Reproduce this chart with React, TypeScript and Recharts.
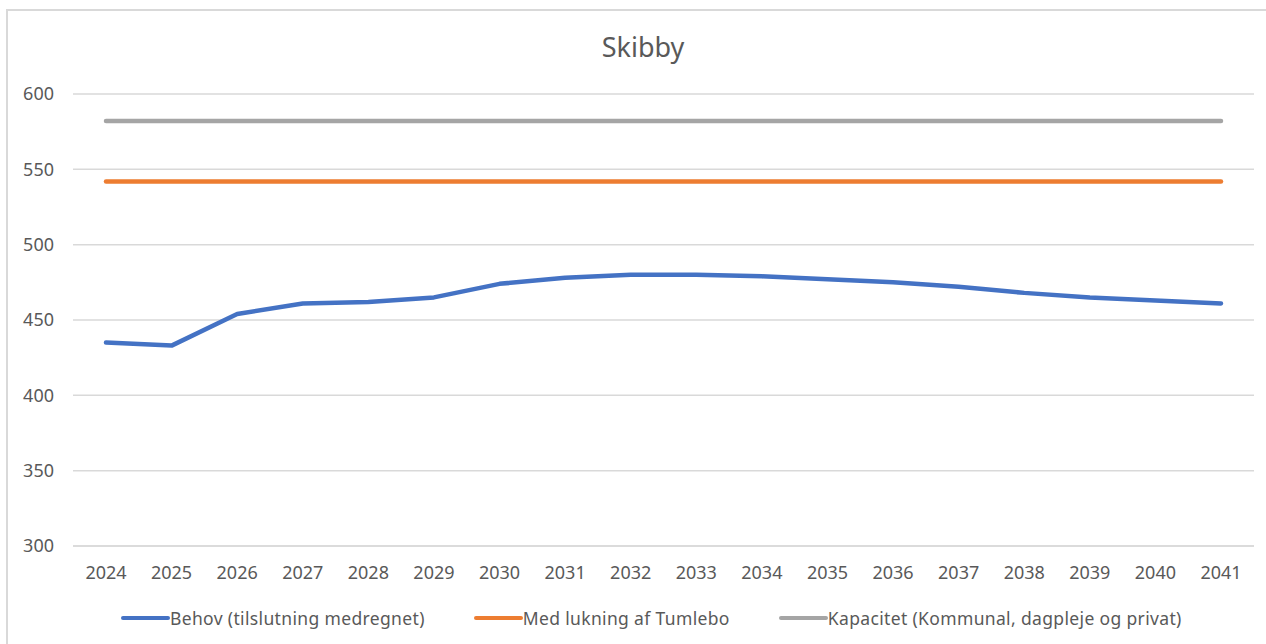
import React from 'react';
import { LineChart, Line, XAxis, YAxis, CartesianGrid } from 'recharts';

const years = [
  '2024', '2025', '2026', '2027', '2028', '2029', '2030', '2031', '2032',
  '2033', '2034', '2035', '2036', '2037', '2038', '2039', '2040', '2041',
];
const behov = [435, 433, 454, 461, 462, 465, 474, 478, 480, 480, 479, 477, 475, 472, 468, 465, 463, 461];
const medLukning = [542, 542, 542, 542, 542, 542, 542, 542, 542, 542, 542, 542, 542, 542, 542, 542, 542, 542];
const kapacitet = [582, 582, 582, 582, 582, 582, 582, 582, 582, 582, 582, 582, 582, 582, 582, 582, 582, 582];
const yTicks = [300, 350, 400, 450, 500, 550, 600];

const seriesNames = [
  'Behov (tilslutning medregnet)',
  'Med lukning af Tumlebo',
  'Kapacitet (Kommunal, dagpleje og privat)',
];
const seriesColors = ['#4472C4', '#ED7D31', '#A5A5A5'];

const data = years.map((year, i) => ({
  year,
  behov: behov[i],
  medLukning: medLukning[i],
  kapacitet: kapacitet[i],
}));

const font = '"Noto Sans", sans-serif';
const textColor = '#595959';

export default function App() {
  return (
    <div style={{ position: 'fixed', left: 0, top: 0, width: 1266, height: 644, overflow: 'hidden', background: '#fff', fontFamily: font }}>
      <div style={{ position: 'absolute', left: 6, top: 9, width: 1280, height: 660, border: '2px solid #d9d9d9' }} />
      <div style={{ position: 'absolute', left: 10, top: 29, width: 1266, textAlign: 'center', fontSize: 27, color: textColor, lineHeight: '36px' }}>
        Skibby
      </div>
      <div style={{ position: 'absolute', left: 0, top: 0 }}>
        <LineChart width={1266} height={644} data={data} margin={{ top: 94, right: 12, bottom: 58, left: 0 }}>
          <CartesianGrid vertical={false} stroke="#d9d9d9" strokeWidth={1.5} />
          <XAxis
            dataKey="year"
            tickLine={false}
            axisLine={{ stroke: '#d9d9d9', strokeWidth: 1.5 }}
            tickSize={0}
            tickMargin={20}
            height={40}
            interval={0}
            padding={{ left: 33, right: 33 }}
            tick={{ fill: textColor, fontSize: 18, fontFamily: font }}
          />
          <YAxis
            domain={[300, 600]}
            ticks={yTicks}
            tickLine={false}
            axisLine={false}
            tickSize={0}
            tickMargin={19}
            width={73}
            tick={{ fill: textColor, fontSize: 18, fontFamily: font }}
          />
          <Line dataKey="behov" name={seriesNames[0]} stroke={seriesColors[0]} strokeWidth={4.5} strokeLinecap="round" strokeLinejoin="round" dot={false} isAnimationActive={false} />
          <Line dataKey="medLukning" name={seriesNames[1]} stroke={seriesColors[1]} strokeWidth={4.5} strokeLinecap="round" dot={false} isAnimationActive={false} />
          <Line dataKey="kapacitet" name={seriesNames[2]} stroke={seriesColors[2]} strokeWidth={4.5} strokeLinecap="round" dot={false} isAnimationActive={false} />
        </LineChart>
      </div>
      <div style={{ position: 'absolute', left: 121, top: 605, display: 'flex', alignItems: 'center', fontSize: 17.5, letterSpacing: 0.35, color: textColor, lineHeight: '26px', whiteSpace: 'nowrap' }}>
        {seriesNames.map((name, i) => (
          <div key={name} style={{ display: 'flex', alignItems: 'center', marginRight: 49 }}>
            <span style={{ display: 'inline-block', width: 49, height: 4.5, borderRadius: 3, background: seriesColors[i] }} />
            <span>{name}</span>
          </div>
        ))}
      </div>
    </div>
  );
}
